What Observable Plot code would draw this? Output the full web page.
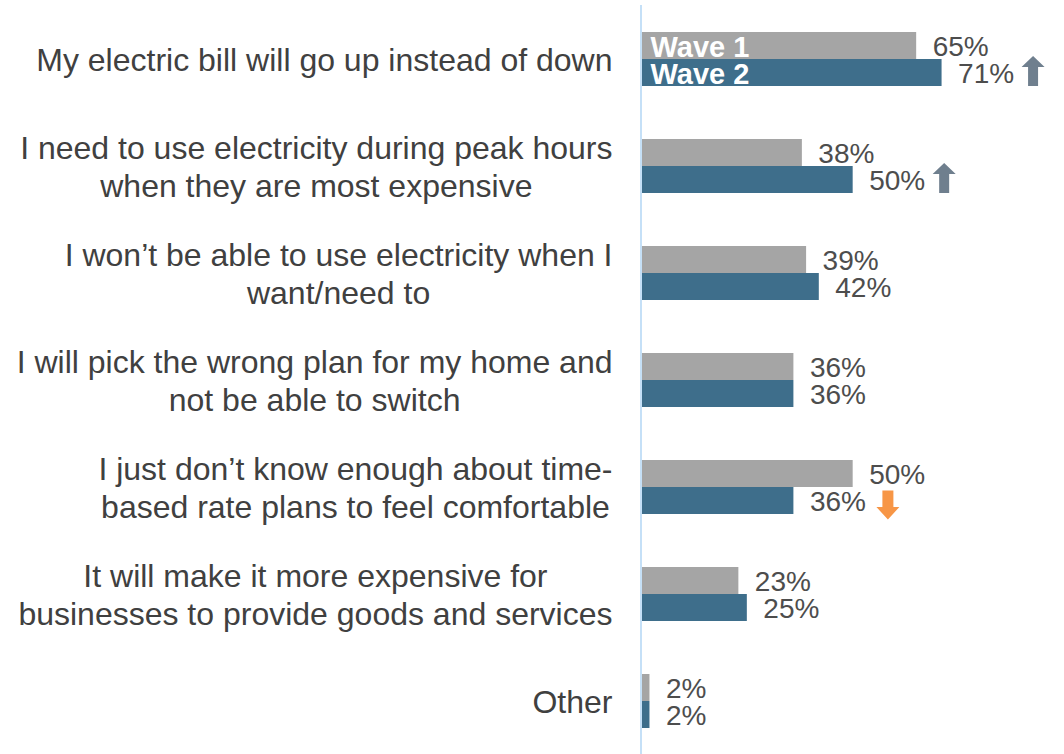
<!DOCTYPE html>
<html><head><meta charset="utf-8">
<script src="https://cdn.jsdelivr.net/npm/d3@7"></script>
<script src="https://cdn.jsdelivr.net/npm/@observablehq/plot@0.6"></script>
<style>body{margin:0;background:#fff;} svg{display:block;}</style>
</head><body><div id="chart"></div>
<script>
const categories = [
  "My electric bill will go up instead of down",
  "I need to use electricity during peak hours\nwhen they are most expensive",
  "I won\u2019t be able to use electricity when I\nwant/need to",
  "I will pick the wrong plan for my home and\nnot be able to switch",
  "I just don\u2019t know enough about time-\nbased rate plans to feel comfortable",
  "It will make it more expensive for\nbusinesses to provide goods and services",
  "Other"
];
const waves = ["Wave 1", "Wave 2"];
const wave1 = [65, 38, 39, 36, 50, 23, 2];
const wave2 = [71, 50, 42, 36, 36, 25, 2];
const change = ["up", "up", "", "", "down", "", ""];

const FONT = "'Liberation Sans', Arial, sans-serif";
const rows = [];
categories.forEach((c, i) => {
  rows.push({category: c, wave: "Wave 1", value: wave1[i]});
  rows.push({category: c, wave: "Wave 2", value: wave2[i]});
});
const ups = categories.map((c, i) => ({category: c, wave: "Wave 2", value: wave2[i], change: change[i]})).filter(d => d.change === "up");
const downs = categories.map((c, i) => ({category: c, wave: "Wave 2", value: wave2[i], change: change[i]})).filter(d => d.change === "down");
const waveLabels = waves.map(w => ({category: categories[0], wave: w}));

const upArrow = {draw(ctx) {
  ctx.moveTo(0, -17); ctx.lineTo(11.5, -6); ctx.lineTo(5, -6); ctx.lineTo(5, 13);
  ctx.lineTo(-5, 13); ctx.lineTo(-5, -6); ctx.lineTo(-11.5, -6); ctx.closePath();
}};
const downArrow = {draw(ctx) {
  ctx.moveTo(0, 18.5); ctx.lineTo(11.5, 6); ctx.lineTo(5.5, 6); ctx.lineTo(5.5, -10.5);
  ctx.lineTo(-5.5, -10.5); ctx.lineTo(-5.5, 6); ctx.lineTo(-11.5, 6); ctx.closePath();
}};

// measure widest line of each category label to right-align the centered block
const cv = document.createElement("canvas").getContext("2d");
cv.font = "32px 'Liberation Sans', Arial, sans-serif";
const widest = categories.map(c => Math.max(...c.split("\n").map(s => cv.measureText(s).width)));

const labelMarks = categories.map((c, i) => Plot.text([c], {
  fy: d => d, text: d => d, frameAnchor: "left", textAnchor: "middle",
  dx: -29 - widest[i] / 2, fontSize: 32, lineHeight: 1.19, fill: "#404040", fontFamily: FONT
}));

const chart = Plot.plot({
  width: 1064, height: 754,
  marginLeft: 641, marginRight: 42, marginTop: 4, marginBottom: 0,
  style: {fontFamily: FONT, background: "#fff"},
  x: {domain: [0, 90], axis: null},
  y: {domain: waves, paddingInner: 0, paddingOuter: 0.913, axis: null},
  fy: {domain: categories, padding: 0, axis: null},
  color: {domain: waves, range: ["#a5a5a5", "#3e6e8b"]},
  marks: [
    Plot.barX(rows, {fy: "category", y: "wave", x: "value", fill: "wave", inset: 0}),
    Plot.ruleX([0], {stroke: "#c5e0f7", strokeWidth: 2, dx: -0.5}),
    Plot.text(rows, {fy: "category", y: "wave", x: "value", text: d => d.value + "%",
      textAnchor: "start", dx: 16, dy: 1, fontSize: 28, fill: "#4d4d4d"}),
    Plot.text(waveLabels, {fy: "category", y: "wave", x: 0, text: "wave", textAnchor: "start",
      dx: 9, dy: 2, fontSize: 29, fontWeight: "bold", fill: "white"}),
    Plot.dot(ups, {fy: "category", y: "wave", x: "value", dx: 91, symbol: upArrow, r: 10, fill: "#6f7f8e", stroke: "none"}),
    Plot.dot(downs, {fy: "category", y: "wave", x: "value", dx: 94, symbol: downArrow, r: 10, fill: "#f79646", stroke: "none"}),
    ...labelMarks
  ]
});
document.getElementById("chart").append(chart);
</script>
</body></html>
